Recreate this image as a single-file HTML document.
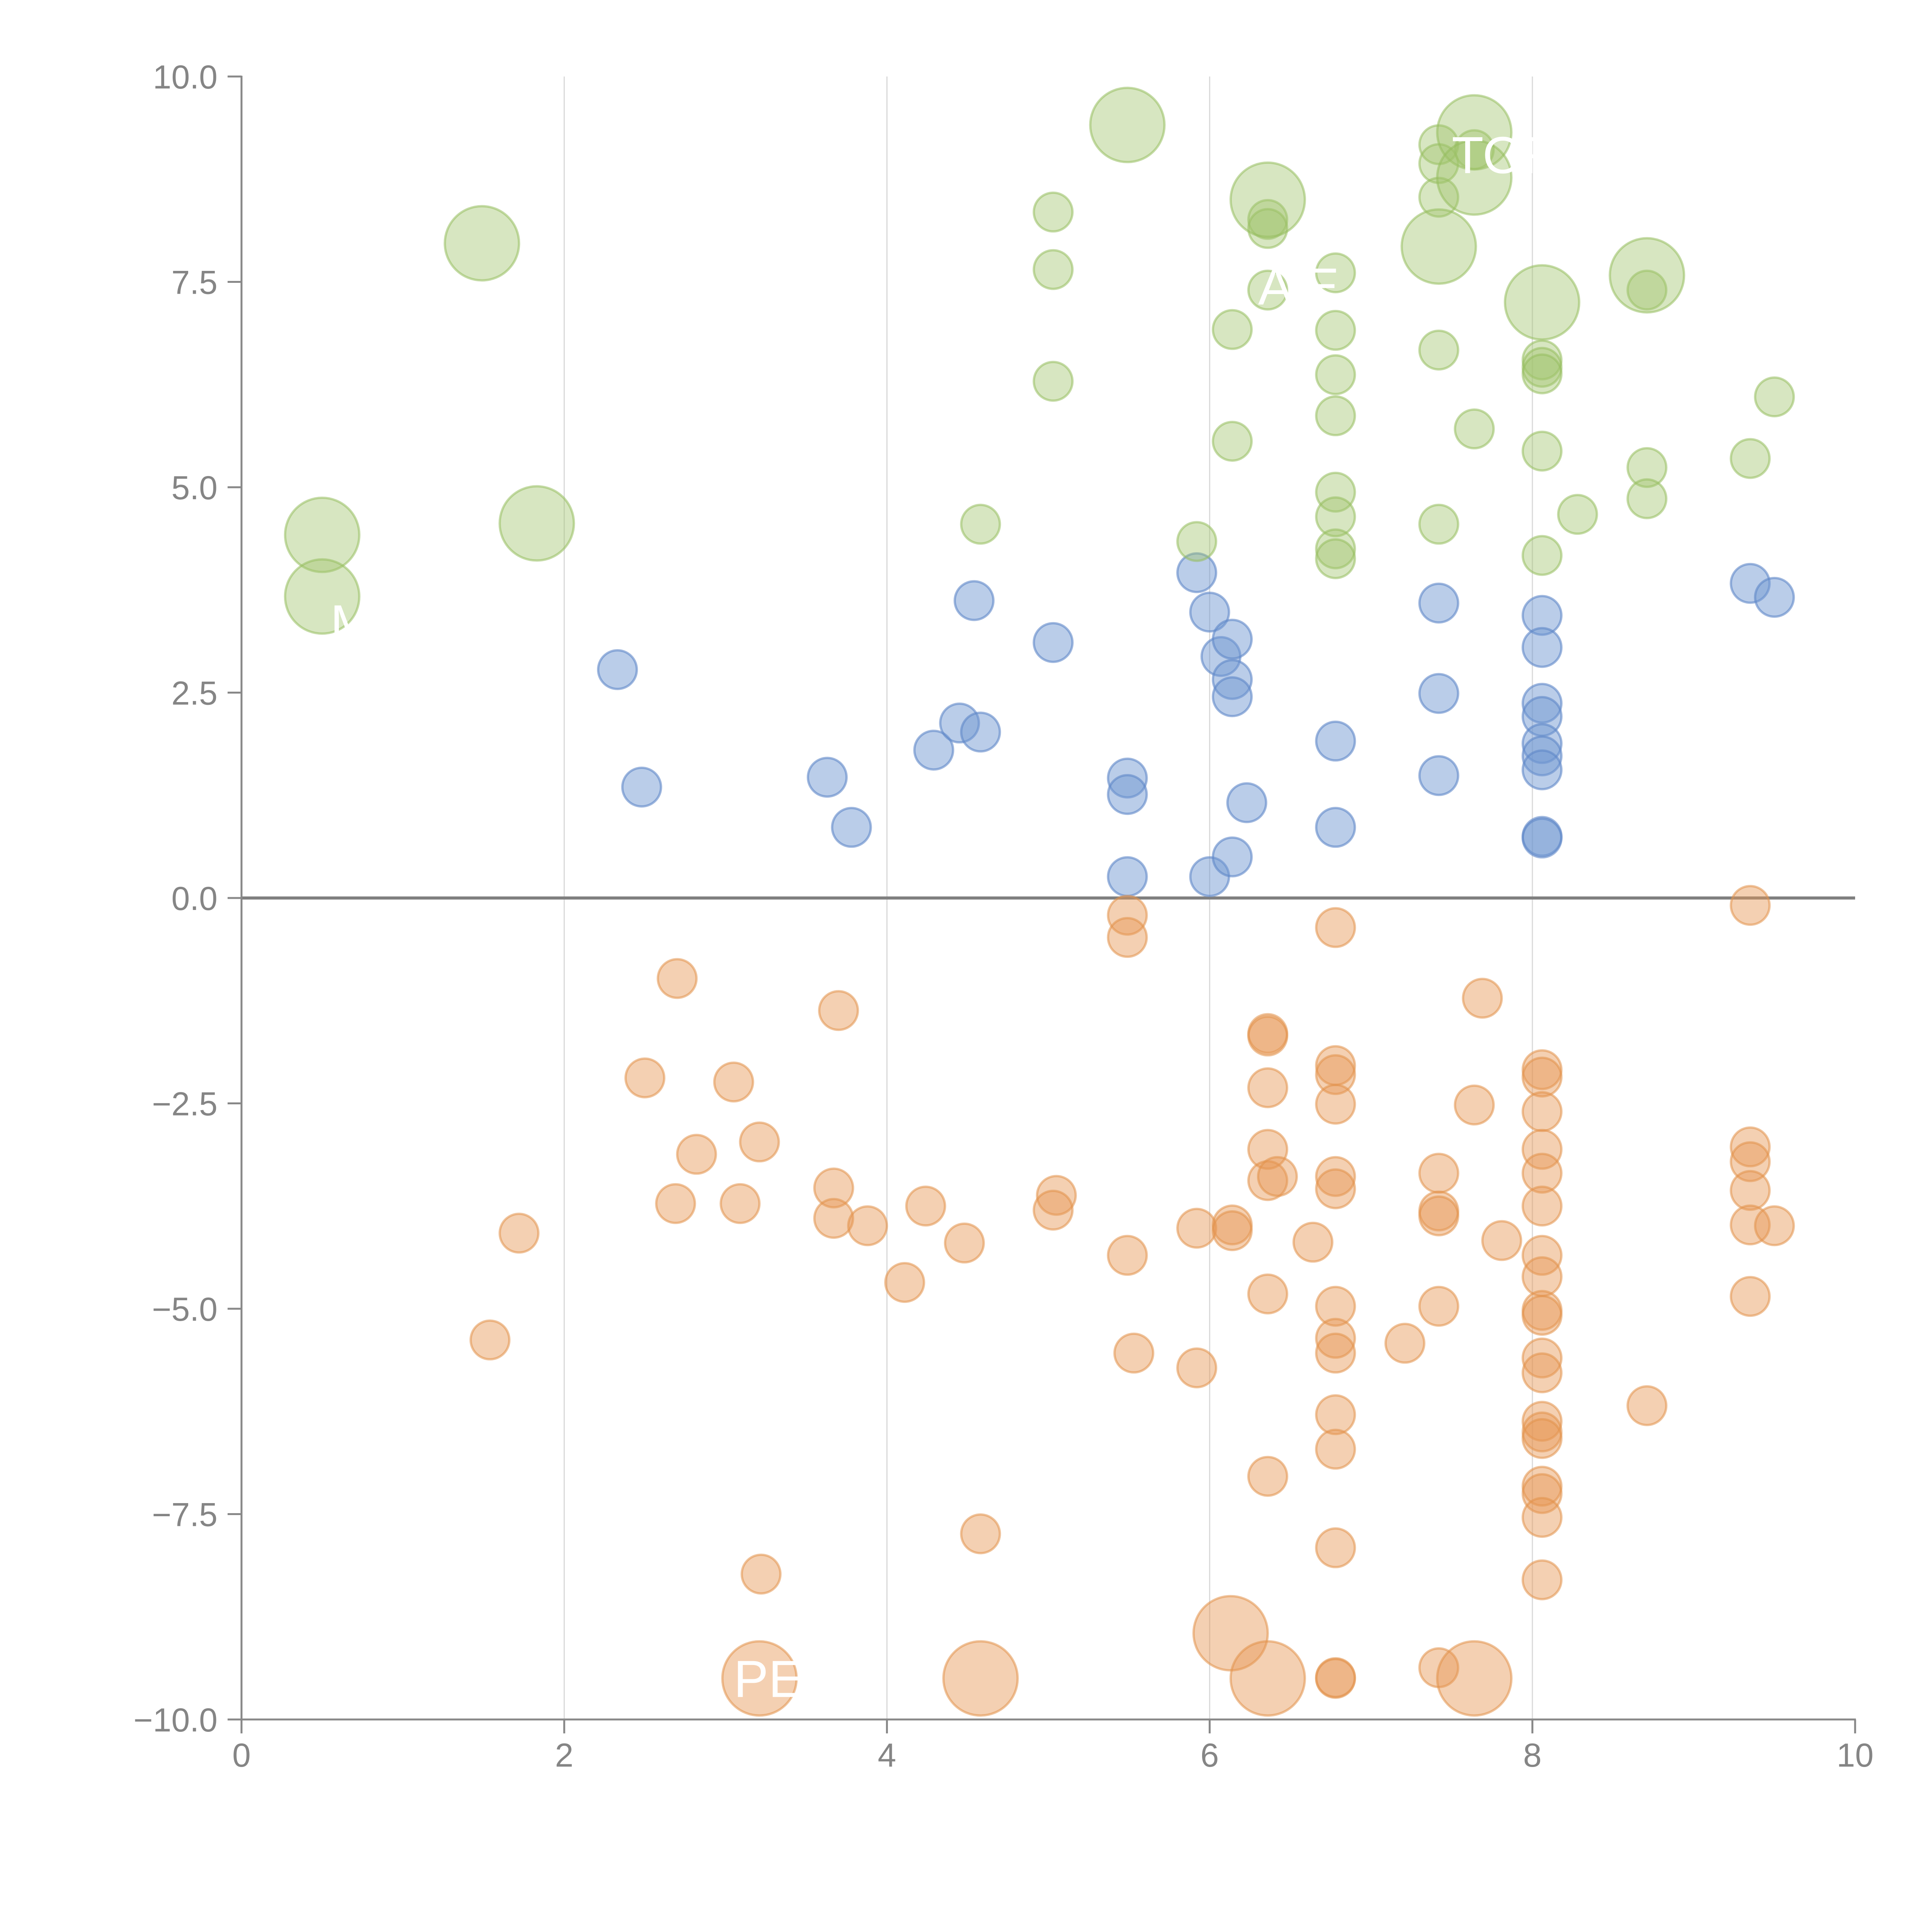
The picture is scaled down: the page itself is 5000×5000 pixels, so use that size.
<!DOCTYPE html>
<html><head><meta charset="utf-8">
<style>
html,body{margin:0;padding:0;background:#fff;}
svg{display:block;}
text{font-family:"Liberation Sans",Arial,sans-serif;}
</style></head>
<body>
<svg id="chart" width="5000" height="5000" viewBox="0 0 5000 5000" xmlns="http://www.w3.org/2000/svg">
<rect width="5000" height="5000" fill="#fff"/>
<g id="grid"></g>
<g id="axes"></g>
<g id="marks"></g>
<g id="labels"></g>
</svg>
<script>
const xTicks = [0, 2, 4, 6, 8, 10];
const yTicks = [-10, -7.5, -5, -2.5, 0, 2.5, 5, 7.5, 10];
const yTickLabels = ["\u221210.0","\u22127.5","\u22125.0","\u22122.5","0.0","2.5","5.0","7.5","10.0"];

const greenBigX = [1.49,0.50,0.50,1.83,5.49,6.36,7.64,7.64,7.42,8.06,8.71];
const greenBigY = [7.97,4.42,3.67,4.56,9.41,8.50,9.32,8.77,7.93,7.25,7.58];
const greenX = [5.03,5.03,5.03,4.58,5.92,6.14,6.14,6.36,6.36,6.36,6.78,6.78,6.78,6.78,6.78,6.78,6.78,6.78,7.42,7.42,7.42,7.42,7.42,7.64,7.64,8.06,8.06,8.06,8.06,8.06,8.28,8.71,8.71,8.71,9.35,9.50];
const greenY = [8.35,7.65,6.29,4.55,4.34,6.92,5.56,8.26,8.15,7.40,7.61,6.91,6.37,5.87,4.94,4.64,4.25,4.13,9.17,8.94,8.53,6.67,4.55,5.71,9.11,6.55,6.46,6.38,5.44,4.17,4.67,7.40,5.24,4.86,5.35,6.10];

const blueX = [2.33,2.48,3.63,3.78,4.29,4.45,4.58,4.54,5.03,5.49,5.49,5.49,5.92,6.00,6.07,6.14,6.14,6.14,6.23,6.00,6.14,6.78,6.78,7.42,7.42,7.42,8.06,8.06,8.06,8.06,8.06,8.06,8.06,8.06,8.06,9.35,9.50];
const blueY = [2.78,1.35,1.47,0.86,1.80,2.13,2.02,3.62,3.11,1.46,1.26,0.26,3.96,3.48,2.94,3.15,2.66,2.45,1.16,0.26,0.50,1.91,0.86,3.59,2.49,1.49,3.44,3.05,2.37,2.21,1.88,1.73,1.56,0.75,0.73,3.83,3.66];

const orangeBigX = [3.21,4.58,6.13,6.36,7.64];
const orangeBigY = [-9.50,-9.50,-8.95,-9.50,-9.50];
const orangeX = [1.54,1.72,2.50,2.70,2.69,2.82,3.05,3.09,3.21,3.22,3.70,3.67,3.67,3.88,4.11,4.24,4.48,4.58,5.05,5.03,5.49,5.49,5.49,5.53,5.92,5.92,6.14,6.14,6.36,6.36,6.36,6.36,6.36,6.42,6.36,6.36,6.64,6.78,6.78,6.78,6.78,6.78,6.78,6.78,6.78,6.78,6.78,6.78,6.78,6.78,6.78,7.21,7.42,7.42,7.42,7.42,7.42,7.64,7.69,7.81,8.06,8.06,8.06,8.06,8.06,8.06,8.06,8.06,8.06,8.06,8.06,8.06,8.06,8.06,8.06,8.06,8.06,8.06,8.06,8.71,9.35,9.35,9.35,9.35,9.35,9.50,9.35];
const orangeY = [-5.38,-4.08,-2.19,-0.98,-3.72,-3.12,-2.24,-3.72,-2.97,-8.23,-1.37,-3.53,-3.90,-3.99,-4.68,-3.75,-4.20,-7.74,-3.62,-3.80,-0.21,-0.48,-4.35,-5.54,-4.02,-5.72,-3.98,-4.05,-1.65,-1.68,-2.31,-3.06,-3.44,-3.39,-4.82,-7.04,-4.19,-0.36,-2.04,-2.15,-2.51,-3.39,-3.54,-4.97,-5.36,-5.54,-6.29,-6.71,-7.91,-9.50,-9.49,-5.42,-3.35,-3.81,-3.87,-4.97,-9.37,-2.52,-1.22,-4.17,-2.09,-2.18,-2.60,-3.06,-3.35,-3.75,-4.35,-4.61,-5.02,-5.08,-5.60,-5.78,-6.37,-6.50,-6.58,-7.16,-7.25,-7.54,-8.30,-6.18,-0.09,-3.03,-3.21,-3.56,-3.98,-3.99,-4.85];

const labelText = ["TOR","A E","PE","M"];
const labelX = [7.5,6.3,3.05,0.55];
const labelY = [9.05,7.45,-9.5,3.35];

const NS = "http://www.w3.org/2000/svg";
const L = 625, R = 4801, T = 198, B = 4450;
const sx = v => L + (v - 0) / 10 * (R - L);
const sy = v => B - (v + 10) / 20 * (B - T);

function mk(tag, attrs, parent) {
  const e = document.createElementNS(NS, tag);
  for (const k in attrs) e.setAttribute(k, attrs[k]);
  parent.appendChild(e);
  return e;
}
const grid = document.getElementById('grid');
const axes = document.getElementById('axes');
const marks = document.getElementById('marks');
const labels = document.getElementById('labels');

xTicks.forEach(t => {
  if (t > 0 && t < 10) {
    const g = mk('line', {x1: sx(t), x2: sx(t), y1: T, y2: B, stroke: '#d9d9d9', 'stroke-width': 3}, grid);
    
    
  }
});

const zl = mk('line', {x1: L, x2: R, y1: sy(0), y2: sy(0), stroke: '#808080', 'stroke-width': 8}, axes);


const xa = mk('line', {x1: L, x2: R + 2, y1: B, y2: B, stroke: '#888', 'stroke-width': 5}, axes);


const ya = mk('line', {x1: L, x2: L, y1: T - 2, y2: B, stroke: '#888', 'stroke-width': 5}, axes);



xTicks.forEach(t => {
  const tk = mk('line', {x1: sx(t), x2: sx(t), y1: B, y2: B + 36, stroke: '#888', 'stroke-width': 5}, axes);
  
  
  const tl = mk('text', {x: sx(t), y: B + 122, 'text-anchor': 'middle', 'font-size': 86, fill: '#858585'}, axes);
  tl.textContent = String(t);
  
  
});
yTicks.forEach((t, i) => {
  const tk = mk('line', {x1: L - 36, x2: L, y1: sy(t), y2: sy(t), stroke: '#888', 'stroke-width': 5}, axes);
  
  
  const tl = mk('text', {x: L - 62, y: sy(t) + 31, 'text-anchor': 'end', 'font-size': 86, fill: '#858585'}, axes);
  tl.textContent = yTickLabels[i];
  
  
});

function series(xs, ys, r, fill, stroke, name) {
  xs.forEach((x, i) => {
    const c = mk('circle', {cx: sx(x), cy: sy(ys[i]), r: r, fill: fill, stroke: stroke, 'stroke-width': 6}, marks);
    
    
  });
}
const gF = 'rgba(160,196,108,0.42)', gS = 'rgba(150,190,95,0.55)';
const bF = 'rgba(110,150,210,0.48)', bS = 'rgba(95,135,200,0.6)';
const oF = 'rgba(230,150,85,0.45)', oS = 'rgba(225,145,75,0.55)';
series(blueX, blueY, 50, bF, bS, 'blue-bubble');
series(orangeX, orangeY, 50, oF, oS, 'orange-bubble');
series(orangeBigX, orangeBigY, 96, oF, oS, 'orange-large-bubble');
series(greenX, greenY, 50, gF, gS, 'green-bubble');
series(greenBigX, greenBigY, 96, gF, gS, 'green-large-bubble');

labelText.forEach((s, i) => {
  const t = mk('text', {x: sx(labelX[i]), y: sy(labelY[i]) + 48, 'font-size': 135, fill: '#fff'}, labels);
  t.textContent = s;
  
  
});
</script>
</body></html>
